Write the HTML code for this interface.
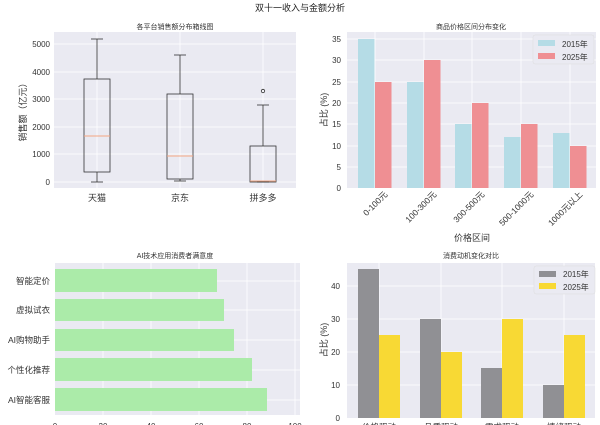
<!DOCTYPE html>
<html><head><meta charset="utf-8"><style>
html,body{margin:0;padding:0;background:#fff;width:600px;height:425px;overflow:hidden}
svg{display:block;font-family:"Liberation Sans","Noto Sans CJK SC",sans-serif}
</style></head><body>
<svg width="600" height="425" viewBox="0 0 600 425" xmlns="http://www.w3.org/2000/svg">
<rect width="600" height="425" fill="#fff"/>
<text x="300" y="11" font-size="9" text-anchor="middle" fill="#222">双十一收入与金额分析</text>

<text x="175" y="29" font-size="7" text-anchor="middle" fill="#333">各平台销售额分布箱线图</text>
<rect x="54" y="32" width="242" height="156" fill="#EAEAF2"/>
<g stroke="#fff" stroke-width="0.8">
<line x1="54" x2="296" y1="44" y2="44"/><line x1="54" x2="296" y1="72" y2="72"/><line x1="54" x2="296" y1="99" y2="99"/><line x1="54" x2="296" y1="127" y2="127"/><line x1="54" x2="296" y1="154" y2="154"/><line x1="54" x2="296" y1="182" y2="182"/>
<line x1="97" x2="97" y1="32" y2="188"/><line x1="180" x2="180" y1="32" y2="188"/><line x1="263" x2="263" y1="32" y2="188"/>
</g>
<g font-size="8" fill="#333" text-anchor="end">
<text x="50" y="47">5000</text><text x="50" y="75">4000</text><text x="50" y="102">3000</text><text x="50" y="130">2000</text><text x="50" y="157">1000</text><text x="50" y="185">0</text>
</g>
<text transform="translate(26,110) rotate(-90)" font-size="9" text-anchor="middle" fill="#333">销售额（亿元）</text>
<g fill="none" stroke="#333" stroke-width="0.8">
<rect x="84" y="79" width="26" height="93"/><line x1="97" x2="97" y1="39" y2="79"/><line x1="97" x2="97" y1="172" y2="182"/><line x1="91" x2="103" y1="39" y2="39"/><line x1="91" x2="103" y1="182" y2="182"/>
<rect x="167" y="94" width="26" height="85"/><line x1="180" x2="180" y1="55" y2="94"/><line x1="180" x2="180" y1="179" y2="181"/><line x1="174" x2="186" y1="55" y2="55"/><line x1="174" x2="186" y1="181" y2="181"/>
<rect x="250" y="146" width="26" height="36"/><line x1="263" x2="263" y1="105" y2="146"/><line x1="257" x2="269" y1="105" y2="105"/><line x1="257" x2="269" y1="182" y2="182"/>
<circle cx="263" cy="91" r="1.7"/>
</g>
<g stroke="#f4a582" stroke-width="0.9">
<line x1="84" x2="110" y1="136" y2="136"/><line x1="167" x2="193" y1="156" y2="156"/><line x1="250" x2="276" y1="181" y2="181"/>
</g>
<g font-size="9" fill="#333" text-anchor="middle">
<text x="97" y="201">天猫</text><text x="180" y="201">京东</text><text x="263" y="201">拼多多</text>
</g>

<text x="471" y="29" font-size="7" text-anchor="middle" fill="#333">商品价格区间分布变化</text>
<rect x="347" y="32" width="249" height="156" fill="#EAEAF2"/>
<g stroke="#fff" stroke-width="0.8">
<line x1="347" x2="596" y1="39" y2="39"/><line x1="347" x2="596" y1="60" y2="60"/><line x1="347" x2="596" y1="82" y2="82"/><line x1="347" x2="596" y1="103" y2="103"/><line x1="347" x2="596" y1="124" y2="124"/><line x1="347" x2="596" y1="146" y2="146"/><line x1="347" x2="596" y1="167" y2="167"/>
<line x1="375" x2="375" y1="32" y2="188"/><line x1="424" x2="424" y1="32" y2="188"/><line x1="472" x2="472" y1="32" y2="188"/><line x1="521" x2="521" y1="32" y2="188"/><line x1="570" x2="570" y1="32" y2="188"/>
</g>
<g font-size="8" fill="#333" text-anchor="end">
<text x="341" y="42">35</text><text x="341" y="63">30</text><text x="341" y="85">25</text><text x="341" y="106">20</text><text x="341" y="127">15</text><text x="341" y="149">10</text><text x="341" y="170">5</text><text x="341" y="191">0</text>
</g>
<text transform="translate(327,110) rotate(-90)" font-size="9" text-anchor="middle" fill="#333">占比 (%)</text>
<g fill="#B5DCE6">
<rect x="358" y="39" width="16.5" height="149"/><rect x="407" y="82" width="16.5" height="106"/><rect x="455" y="124" width="16.5" height="64"/><rect x="504" y="137" width="16.5" height="51"/><rect x="553" y="133" width="16.5" height="55"/>
</g>
<g fill="#EF8F93">
<rect x="375" y="82" width="16.5" height="106"/><rect x="424" y="60" width="16.5" height="128"/><rect x="472" y="103" width="16.5" height="85"/><rect x="521" y="124" width="16.5" height="64"/><rect x="570" y="146" width="16.5" height="42"/>
</g>
<g font-size="8.5" fill="#333" text-anchor="end">
<text transform="translate(388,195) rotate(-45)">0-100元</text>
<text transform="translate(437,195) rotate(-45)">100-300元</text>
<text transform="translate(485,195) rotate(-45)">300-500元</text>
<text transform="translate(534,195) rotate(-45)">500-1000元</text>
<text transform="translate(583,195) rotate(-45)">1000元以上</text>
</g>
<text x="472" y="241" font-size="9" text-anchor="middle" fill="#333">价格区间</text>
<rect x="533" y="35" width="61" height="29" fill="#EAEAF2" stroke="#ddd" stroke-width="0.5" rx="2"/>
<rect x="538" y="40" width="17" height="6" fill="#B5DCE6"/><text x="562" y="47" font-size="8" fill="#333">2015年</text>
<rect x="538" y="53" width="17" height="6" fill="#EF8F93"/><text x="562" y="60" font-size="8" fill="#333">2025年</text>

<text x="175" y="258" font-size="7" text-anchor="middle" fill="#333">AI技术应用消费者满意度</text>
<rect x="55" y="263" width="245" height="152" fill="#EAEAF2"/>
<g stroke="#fff" stroke-width="0.8">
<line x1="103" x2="103" y1="263" y2="415"/><line x1="151" x2="151" y1="263" y2="415"/><line x1="199" x2="199" y1="263" y2="415"/><line x1="247" x2="247" y1="263" y2="415"/><line x1="295" x2="295" y1="263" y2="415"/>
<line x1="55" x2="300" y1="281" y2="281"/><line x1="55" x2="300" y1="310" y2="310"/><line x1="55" x2="300" y1="340" y2="340"/><line x1="55" x2="300" y1="370" y2="370"/><line x1="55" x2="300" y1="400" y2="400"/>
</g>
<g fill="#ABEBA9">
<rect x="55" y="269" width="162" height="23"/><rect x="55" y="299" width="169" height="22"/><rect x="55" y="329" width="179" height="22"/><rect x="55" y="358" width="197" height="23"/><rect x="55" y="388" width="212" height="23"/>
</g>
<g font-size="8.5" fill="#333" text-anchor="end">
<text x="50" y="284">智能定价</text><text x="50" y="313">虚拟试衣</text><text x="50" y="343">AI购物助手</text><text x="50" y="373">个性化推荐</text><text x="50" y="403">AI智能客服</text>
</g>
<g font-size="8" fill="#333" text-anchor="middle">
<text x="55" y="429">0</text><text x="103" y="429">20</text><text x="151" y="429">40</text><text x="199" y="429">60</text><text x="247" y="429">80</text><text x="295" y="429">100</text>
</g>

<text x="471" y="258" font-size="7" text-anchor="middle" fill="#333">消费动机变化对比</text>
<rect x="347" y="263" width="248" height="155" fill="#EAEAF2"/>
<g stroke="#fff" stroke-width="0.8">
<line x1="347" x2="595" y1="286" y2="286"/><line x1="347" x2="595" y1="319" y2="319"/><line x1="347" x2="595" y1="352" y2="352"/><line x1="347" x2="595" y1="385" y2="385"/>
<line x1="379" x2="379" y1="263" y2="418"/><line x1="441" x2="441" y1="263" y2="418"/><line x1="502" x2="502" y1="263" y2="418"/><line x1="564" x2="564" y1="263" y2="418"/>
</g>
<g font-size="8" fill="#333" text-anchor="end">
<text x="340" y="289">40</text><text x="340" y="322">30</text><text x="340" y="355">20</text><text x="340" y="388">10</text><text x="340" y="421">0</text>
</g>
<text transform="translate(327,340) rotate(-90)" font-size="9" text-anchor="middle" fill="#333">占比 (%)</text>
<g fill="#909094">
<rect x="358" y="269" width="21" height="149"/><rect x="420" y="319" width="21" height="99"/><rect x="481" y="368" width="21" height="50"/><rect x="543" y="385" width="21" height="33"/>
</g>
<g fill="#F8D934">
<rect x="379" y="335" width="21" height="83"/><rect x="441" y="352" width="21" height="66"/><rect x="502" y="319" width="21" height="99"/><rect x="564" y="335" width="21" height="83"/>
</g>
<g font-size="8.5" fill="#333" text-anchor="middle">
<text x="379" y="430">价格驱动</text><text x="441" y="430">品质驱动</text><text x="502" y="430">需求驱动</text><text x="564" y="430">情绪驱动</text>
</g>
<rect x="534" y="266" width="61" height="28" fill="#EAEAF2" stroke="#ddd" stroke-width="0.5" rx="2"/>
<rect x="539" y="271" width="17" height="6" fill="#909094"/><text x="563" y="277" font-size="8" fill="#333">2015年</text>
<rect x="539" y="283" width="17" height="6" fill="#F8D934"/><text x="563" y="290" font-size="8" fill="#333">2025年</text>
</svg>
</body></html>
